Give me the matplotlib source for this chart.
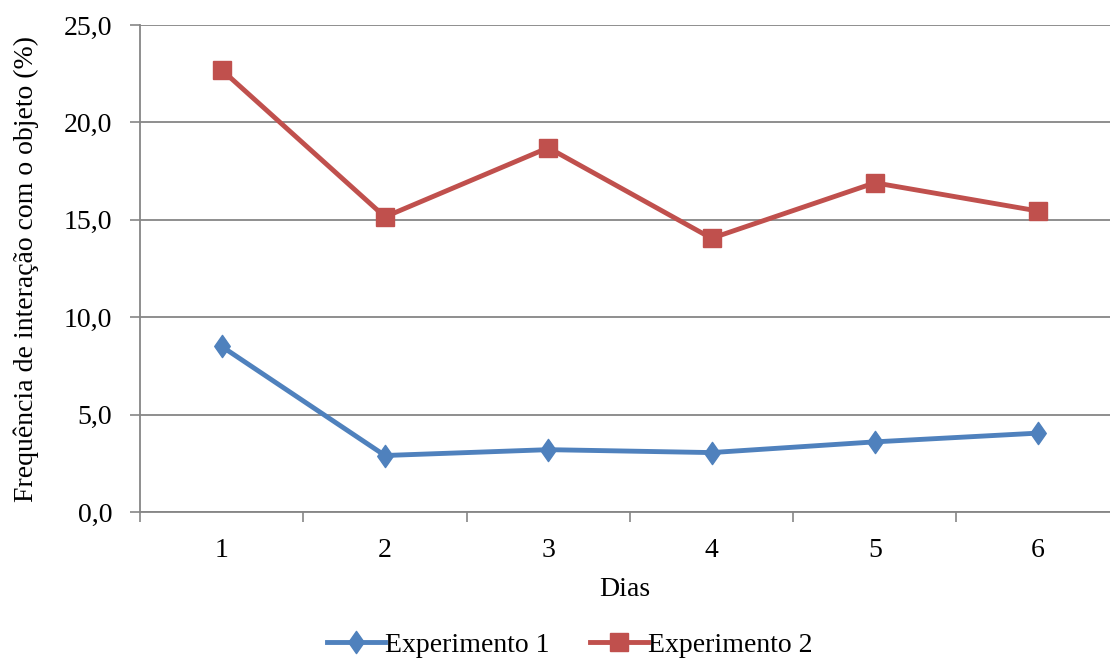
import matplotlib
matplotlib.use("Agg")
import matplotlib.pyplot as plt
import matplotlib.ticker as ticker
from matplotlib.path import Path

# Dados
dias = [1, 2, 3, 4, 5, 6]
experimento_1 = [8.5, 2.9, 3.2, 3.05, 3.6, 4.05]
experimento_2 = [22.7, 15.15, 18.7, 14.05, 16.9, 15.45]

AZUL = "#4F81BD"
VERMELHO = "#C0504D"
CINZA = "#868686"

plt.rcParams["font.family"] = ["Liberation Serif", "DejaVu Serif"]
plt.rcParams["font.size"] = 20

# losango estilo Excel (mais alto que largo)
losango = Path([(0, 1), (0.7, 0), (0, -1), (-0.7, 0), (0, 1)],
               [Path.MOVETO, Path.LINETO, Path.LINETO, Path.LINETO, Path.CLOSEPOLY])

fig = plt.figure(figsize=(11.1, 6.61), dpi=100)
ax = fig.add_axes([140 / 1110, 1 - 512 / 661, 970 / 1110, 487 / 661])

ax.plot(dias, experimento_1, color=AZUL, lw=3.5, marker=losango, ms=16,
        label="Experimento 1", zorder=3)
ax.plot(dias, experimento_2, color=VERMELHO, lw=3.5, marker="s", ms=13,
        label="Experimento 2", zorder=3)

ax.set_xlim(0.5, 6.44)
ax.set_ylim(0, 25)
ax.set_xticks(dias)
ax.set_xticks([0.5, 1.5, 2.5, 3.5, 4.5, 5.5], minor=True)
ax.set_yticks([0, 5, 10, 15, 20, 25])
ax.yaxis.set_major_formatter(ticker.FuncFormatter(lambda v, p: f"{v:.1f}".replace(".", ",")))

ax.tick_params(axis="x", which="major", length=0, pad=19)
ax.tick_params(axis="x", which="minor", length=7, width=1.2, color=CINZA, direction="out")
ax.tick_params(axis="y", length=7, width=1.2, color=CINZA, direction="out", pad=13)

ax.grid(axis="y", color=CINZA, lw=1.3)
ax.set_axisbelow(True)
for s in ["top", "right"]:
    ax.spines[s].set_visible(False)
for s in ["left", "bottom"]:
    ax.spines[s].set_color(CINZA)
    ax.spines[s].set_linewidth(1.3)

ax.set_xlabel("Dias", labelpad=10)
ax.set_ylabel("Frequência de interação com o objeto (%)", labelpad=18)

fig.legend(loc="center", bbox_to_anchor=(570 / 1110, 1 - 645 / 661), ncol=2,
           frameon=False, handlelength=2.1, handletextpad=0.0, columnspacing=1.45)

fig.savefig("out.png", dpi=100)
